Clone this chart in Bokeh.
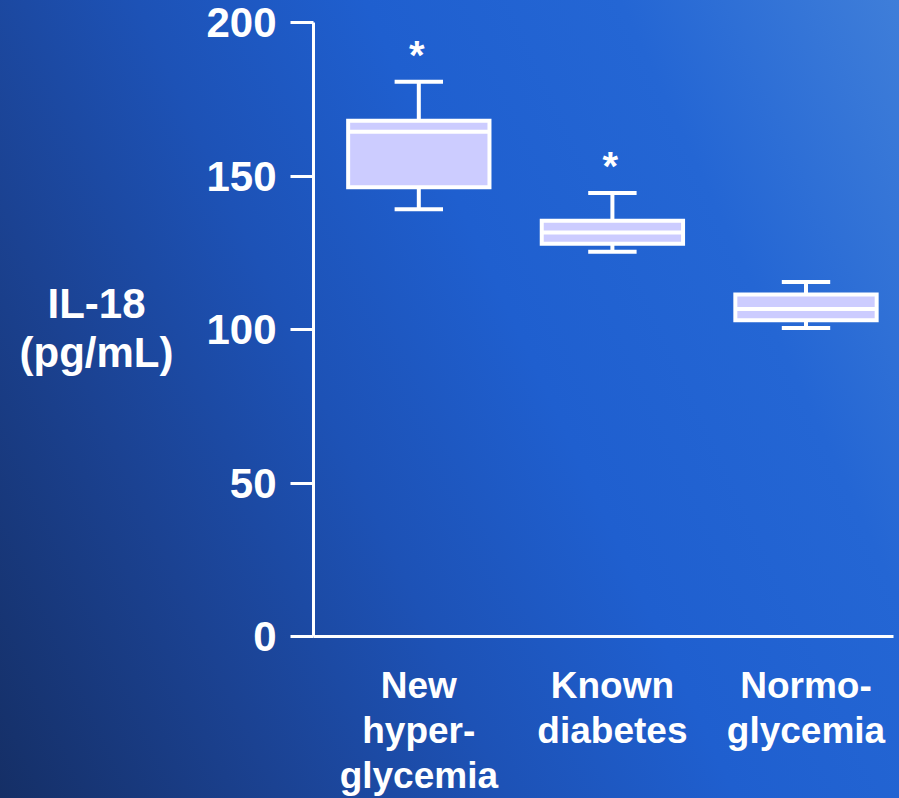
from bokeh.plotting import figure
from bokeh.models import ColumnDataSource, FixedTicker
from bokeh.layouts import row
from bokeh.core.properties import value
from bokeh.embed import file_html
from bokeh.resources import INLINE

# IL-18 (pg/mL) distribution per patient group
categories = ["New\nhyper-\nglycemia", "Known\ndiabetes", "Normo-\nglycemia"]
positions = [1, 2, 3]
whisker_low = [139.2, 125.3, 100.5]
quartile_1 = [146.3, 127.9, 103.0]
medians = [164.4, 131.6, 106.7]
quartile_3 = [168.0, 135.4, 111.4]
whisker_high = [180.7, 144.5, 115.5]
significance = ["*", "*", ""]
y_ticks = [0, 50, 100, 150, 200]
y_title = "IL-18\n(pg/mL)"

FONT = "Liberation Sans"
BOX_W = 0.73
CAP_W = 0.25

src = ColumnDataSource(dict(
    x=positions,
    left=[x - BOX_W / 2 for x in positions],
    right=[x + BOX_W / 2 for x in positions],
    cap_l=[x - CAP_W / 2 for x in positions],
    cap_r=[x + CAP_W / 2 for x in positions],
    lo=whisker_low, q1=quartile_1, med=medians, q3=quartile_3, hi=whisker_high,
    sig=significance,
))

# narrow panel on the left that carries the y-axis title
side = figure(
    width=200, height=798, x_range=(0, 1), y_range=(0, 1),
    output_backend="svg", toolbar_location=None,
    x_axis_location=None, y_axis_location=None, min_border=0,
    background_fill_alpha=0, border_fill_alpha=0, outline_line_color=None,
)
side.xgrid.visible = False
side.ygrid.visible = False
side.text(x=[0.48], y=[0.502], text=[y_title], text_font=value(FONT),
          text_font_style="bold", text_font_size="42px", text_color="white",
          text_align="center", text_baseline="middle", text_line_height=1.05)

p = figure(
    width=699, height=798,
    x_range=(0.456, 3.452), y_range=(0, 200),
    output_backend="svg", toolbar_location=None,
    min_border_left=113, min_border_right=6,
    min_border_top=22, min_border_bottom=162,
    background_fill_alpha=0, border_fill_alpha=0,
    outline_line_color=None,
)
p.xgrid.visible = False
p.ygrid.visible = False

# whisker stems and caps
p.segment(x0="x", y0="q3", x1="x", y1="hi", source=src, line_color="white", line_width=4)
p.segment(x0="x", y0="lo", x1="x", y1="q1", source=src, line_color="white", line_width=4)
p.segment(x0="cap_l", y0="hi", x1="cap_r", y1="hi", source=src, line_color="white", line_width=4)
p.segment(x0="cap_l", y0="lo", x1="cap_r", y1="lo", source=src, line_color="white", line_width=4)

# boxes with the median bar
p.quad(left="left", right="right", bottom="q1", top="q3", source=src,
       fill_color="#ccccff", line_color="white", line_width=4, line_join="miter")
p.segment(x0="left", y0="med", x1="right", y1="med", source=src, line_color="white", line_width=4)

# significance markers above the upper whisker
p.text(x="x", y="hi", text="sig", source=src, text_font=value(FONT),
       text_font_style="bold", text_font_size="40px", text_color="white",
       text_align="center", text_baseline="alphabetic", y_offset=-27, x_offset=-2)

# y axis
ya = p.yaxis[0]
ya.ticker = FixedTicker(ticks=y_ticks)
ya.minor_tick_line_color = None
ya.major_tick_in = 0
ya.major_tick_out = 23
ya.major_tick_line_color = "white"
ya.major_tick_line_width = 3
ya.axis_line_color = "white"
ya.axis_line_width = 3
ya.major_label_text_color = "white"
ya.major_label_text_font = FONT
ya.major_label_text_font_style = "bold"
ya.major_label_text_font_size = "42px"
ya.major_label_standoff = 14

# x axis with group names
xa = p.xaxis[0]
xa.ticker = FixedTicker(ticks=positions)
xa.major_label_overrides = {pos: name for pos, name in zip(positions, categories)}
xa.minor_tick_line_color = None
xa.major_tick_in = 0
xa.major_tick_out = 0
xa.axis_line_color = "white"
xa.axis_line_width = 3
xa.major_label_text_color = "white"
xa.major_label_text_font = FONT
xa.major_label_text_font_style = "bold"
xa.major_label_text_font_size = "37px"
xa.major_label_text_line_height = 1.1
xa.major_label_standoff = 28

layout = row(side, p, spacing=0)
layout.styles = {
    "background": "linear-gradient(65deg, #152f66 0%, #1b4292 22%, #1d52b6 40%, "
                  "#1f5fcf 58%, #2466d4 78%, #3f7ed9 100%)"
}

open("out.html", "w").write(file_html(layout, INLINE))
